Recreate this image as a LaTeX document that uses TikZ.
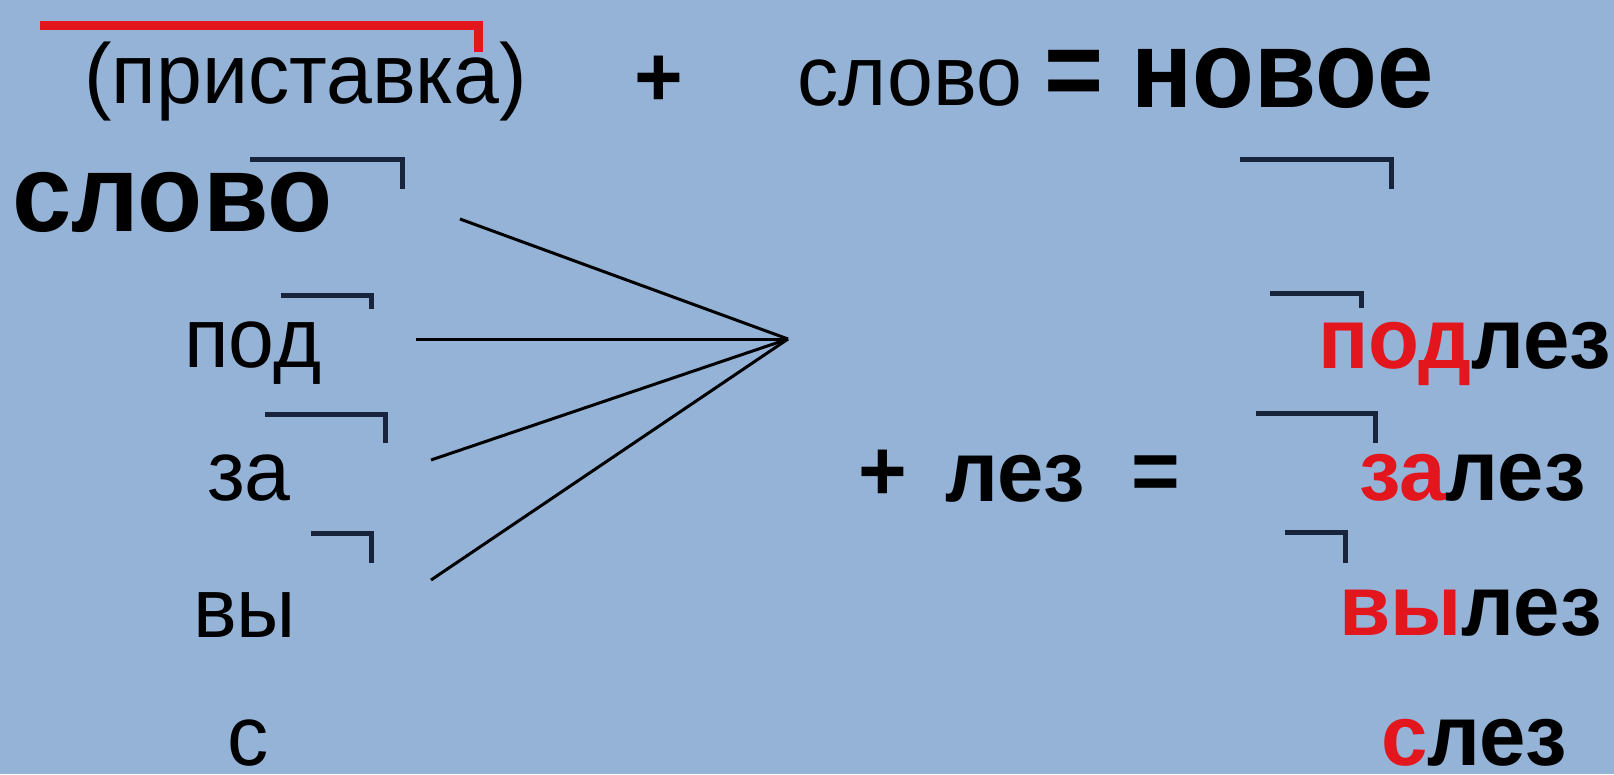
\documentclass[tikz,border=0pt]{standalone}
\usepackage{fontspec}
\setmainfont{Liberation Sans}[FakeStretch=0.97]
\newfontfamily\narrowsans{Liberation Sans}[FakeStretch=0.92]
\usepackage{tikz}
\definecolor{bgblue}{RGB}{149,179,215}
\definecolor{prefred}{RGB}{226,22,28}
\definecolor{cornernavy}{RGB}{24,36,60}

\begin{document}
\begin{tikzpicture}[x=1pt,y=-1pt,
  word/.style={inner sep=0pt,anchor=base west,font=\fontsize{85}{90}\selectfont},
  bword/.style={word,font=\fontsize{86}{90}\selectfont\bfseries},
  bigword/.style={word,font=\fontsize{110}{115}\selectfont\narrowsans\bfseries},
  corner/.style={draw=cornernavy,line width=5pt,line join=miter},
  redcorner/.style={draw=prefred,line width=9pt,line join=miter},
  link/.style={draw=black,line width=3pt}
]
\fill[bgblue] (0,0) rectangle (1614,774);
\useasboundingbox (0,0) rectangle (1614,774);

\node[word] (pristavka) at (84,103) {(приставка)};
\node[bword,anchor=base] (plusA) at (659,106) {+};
\node[word] (slovoA) at (797,105) {слово};
\node[bigword] (novoe) at (1044,107) {= новое};

\node[bword,font=\fontsize{110}{115}\selectfont\bfseries] (slovo) at (12,231) {слово};
\node[word] (pod) at (184,367) {под};
\node[word] (za) at (207,500) {за};
\node[word] (vy) at (193,637) {вы};
\node[word] (s) at (227,765) {с};

\node[bword] (plusB) at (858,500) {+};
\node[bword] (lez) at (945,501) {лез};
\node[bword] (eqB) at (1131,500) {=};

\node[bword] (podlez) at (1318,368) {{\color{prefred}под}лез};
\node[bword] (zalez) at (1359,500) {{\color{prefred}за}лез};
\node[bword] (vylez) at (1339,635) {{\color{prefred}вы}лез};
\node[bword] (slez) at (1381,765) {{\color{prefred}с}лез};

\draw[redcorner] (40,25) -- (478,25) -- (478,52);
\draw[corner] (250,159) -- (402,159) -- (402,189);
\draw[corner] (1240,159) -- (1391,159) -- (1391,189);
\draw[corner] (281,295) -- (371,295) -- (371,309);
\draw[corner] (265,414) -- (385,414) -- (385,443);
\draw[corner] (311,533) -- (371,533) -- (371,563);
\draw[corner] (1270,293) -- (1361,293) -- (1361,308);
\draw[corner] (1256,413) -- (1375,413) -- (1375,443);
\draw[corner] (1285,532) -- (1345,532) -- (1345,563);

\coordinate (apex) at (788,339);
\coordinate (fromslovo) at (460,219);
\coordinate (frompod) at (416,339);
\coordinate (fromza) at (431,460);
\coordinate (fromvy) at (431,580);
\draw[link] (fromslovo) -- (apex);
\draw[link] (frompod) -- (apex);
\draw[link] (fromza) -- (apex);
\draw[link] (fromvy) -- (apex);
\end{tikzpicture}
\end{document}
